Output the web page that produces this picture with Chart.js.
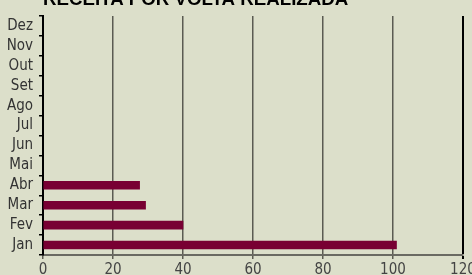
<!DOCTYPE html>
<html>
<head>
<meta charset="utf-8">
<script src="https://cdn.jsdelivr.net/npm/chart.js@4.4.0/dist/chart.umd.min.js"></script>
<style>
  html, body { margin: 0; padding: 0; background: #dcdfca; }
  #wrap { width: 472px; height: 275px; position: relative; }
</style>
</head>
<body>
<div id="wrap"><canvas id="myChart" width="472" height="275"></canvas></div>
<script>
// Data
const months = ["Jan", "Fev", "Mar", "Abr", "Mai", "Jun", "Jul", "Ago", "Set", "Out", "Nov", "Dez"];
const receita = [101, 40, 29.3, 27.6, null, null, null, null, null, null, null, null];
const xTicks = [0, 20, 40, 60, 80, 100, 120];
const chartTitle = "RECEITA POR VOLTA REALIZADA";

const labelFont = "'Liberation Sans Narrow', 'DejaVu Sans Condensed', sans-serif";

// Title is cut off at the top, so draw it by hand
const titlePlugin = {
  id: "cutTitle",
  afterDraw(chart) {
    const c = chart.ctx;
    c.save();
    c.font = "bold 18.7px 'Liberation Sans', sans-serif";
    c.fillStyle = "#000";
    c.textBaseline = "alphabetic";
    c.textAlign = "left";
    c.fillText(chartTitle, 43, 5);
    c.restore();
  }
};

let ctx = document.getElementById("myChart").getContext("2d");
let myChart = new Chart(ctx, {
  type: "bar",
  data: {
    labels: months,
    datasets: [{
      data: receita,
      backgroundColor: "#780033",
      borderWidth: 0,
      barThickness: 8
    }]
  },
  options: {
    indexAxis: "y",
    responsive: false,
    animation: false,
    layout: { padding: { top: 16, right: 9, left: 0, bottom: 0 } },
    plugins: { legend: { display: false }, tooltip: { enabled: false }, title: { display: false } },
    scales: {
      x: {
        min: 0,
        max: 120,
        afterBuildTicks(axis) {
          axis.ticks = xTicks.map(v => ({ value: v }));
        },
        afterFit(axis) {
          axis.height = 20;
          axis.paddingRight = 0;
          axis.paddingLeft = 0;
        },
        ticks: {
          color: "#444",
          font: { family: labelFont, size: 15 },
          padding: 2,
          maxRotation: 0
        },
        grid: {
          color: ctx => (ctx.tick && ctx.tick.value === 120 ? "#000" : "#5b5b52"),
          lineWidth: ctx => (ctx.tick && ctx.tick.value === 120 ? 2 : 1.5),
          tickLength: 4
        },
        border: { display: true, color: "#6a6a62", width: 2 }
      },
      y: {
        reverse: true,
        afterFit(axis) { axis.width = 43; },
        ticks: {
          color: "#333",
          font: { family: labelFont, size: 15 },
          padding: 6,
          autoSkip: false
        },
        grid: {
          drawOnChartArea: false,
          drawTicks: true,
          tickLength: 4,
          color: "#000",
          lineWidth: 1.5
        },
        border: { display: true, color: "#000", width: 2 }
      }
    }
  },
  plugins: [titlePlugin]
});
</script>
</body>
</html>
